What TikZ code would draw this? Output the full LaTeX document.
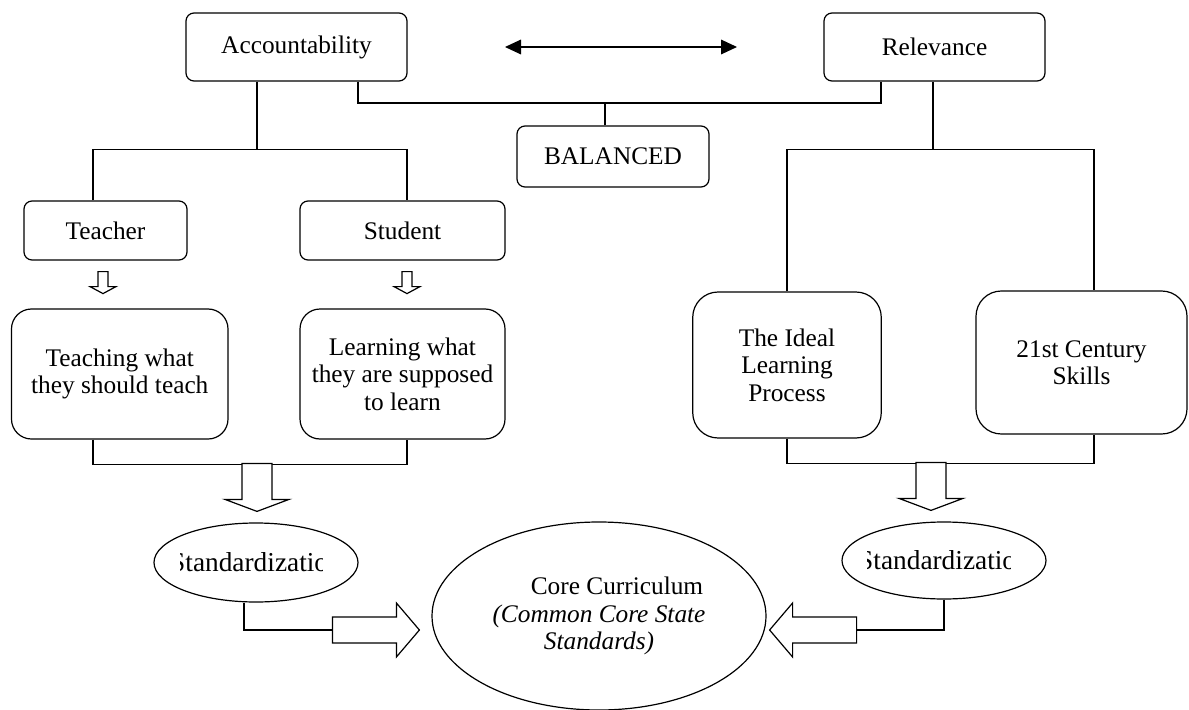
\documentclass[tikz,border=0pt]{standalone}
\usepackage{fontspec}
\setmainfont{Liberation Serif}
\usetikzlibrary{shapes,arrows,positioning,calc,arrows.meta}

\tikzset{
  every node/.style={font=\fontsize{19}{20.5}\selectfont, inner sep=2pt},
  box/.style={draw, rounded corners=6pt, align=center, line width=0.9pt},
  bigbox/.style={draw, rounded corners=15pt, align=center, line width=0.9pt},
  oval/.style={draw, ellipse, line width=0.9pt},
  link/.style={line width=0.9pt},
  pics/thindown/.style={code={
    \draw[link, fill=white] (-5,0) -- (-5,15) -- (-13,15) -- (0,22) -- (13,15) -- (5,15) -- (5,0) -- cycle;}},
  pics/fatdown/.style={code={
    \draw[link, fill=white] (-15,0) -- (-15,36) -- (-32,36) -- (0,48) -- (32,36) -- (15,36) -- (15,0) -- cycle;}},
  pics/fatside/.style={code={
    \draw[link, fill=white] (0,-13) -- (64,-13) -- (64,-27) -- (87,0) -- (64,27) -- (64,13) -- (0,13) -- cycle;}},
}

\begin{document}
\begin{tikzpicture}[x=0.75pt, y=-0.75pt]
    \useasboundingbox (0,0) rectangle (1189,710);

    % Top row
    \node[box, minimum width=165.75pt, minimum height=51pt] (acc) at (296.5,47) {Accountability};
    \node[box, minimum width=165.75pt, minimum height=51pt] (rel) at (934.5,47) {Relevance};
    \node[box, minimum width=144pt, minimum height=45.75pt] (bal) at (613,156.5) {BALANCED};
    \coordinate (al) at (505,47);
    \coordinate (ar) at (737,47);
    \draw[link, {Triangle[length=12pt,width=11pt]}-{Triangle[length=12pt,width=11pt]}] (al) -- (ar);

    % Accountability side
    \node[box, minimum width=122.25pt, minimum height=44.25pt] (teach) at (105.5,230.5) {Teacher};
    \node[box, minimum width=153.75pt, minimum height=44.25pt] (stud) at (402.5,230.5) {Student};
    \node[bigbox, minimum width=162.4pt, minimum height=97.5pt] (teachwhat) at (119.75,374) {Teaching what\\they should teach};
    \node[bigbox, minimum width=153.75pt, minimum height=97.5pt] (learnwhat) at (402.5,374) {Learning what\\they are supposed\\to learn};

    % Relevance side
    \node[bigbox, rounded corners=19pt, minimum width=141.4pt, minimum height=109.5pt] (ideal) at (787,365) {The Ideal\\Learning\\Process};
    \node[bigbox, rounded corners=19pt, minimum width=158.25pt, minimum height=107.25pt] (skills) at (1081.5,362.5) {21st Century\\Skills};

    % Bottom
    \node[oval, minimum width=153pt, minimum height=59.25pt] (stdl) at (256,562.5) {};
    \node[oval, minimum width=153pt, minimum height=57.75pt] (stdr) at (944,560.5) {};
    \node[oval, minimum width=250.5pt, minimum height=141pt, align=center] (core) at (599,616)
        {\hspace*{27pt}Core Curriculum\\\textit{(Common Core State}\\\textit{Standards)}};
    \begin{scope}
        \clip (180,535) rectangle (322,590);
        \node[font=\fontsize{20.5}{22}\selectfont] (stdltext) at (stdl.center) {Standardization};
    \end{scope}
    \begin{scope}
        \clip (867,535) rectangle (1010,590);
        \node[font=\fontsize{20.5}{22}\selectfont] (stdrtext) at (stdr.center) {Standardization};
    \end{scope}

    % Connectors
    \coordinate (mid) at (605,103);
    \draw[link] ($(acc.south)+(61.5,0)$) |- (mid) -| ($(rel.south)+(-53.5,0)$);
    \draw[link] (bal.north -| mid) -- (mid);
    \draw[link] ($(acc.south)+(-39.5,0)$) -- ++(0,68) coordinate (accj);
    \draw[link] ($(teach.north)+(-12.5,0)$) |- (accj) -| ($(stud.north)+(4.5,0)$);
    \draw[link] ($(rel.south)+(-1.5,0)$) -- ++(0,68) coordinate (relj);
    \draw[link] (ideal.north) |- (relj) -| ($(skills.north)+(12.5,0)$);

    \pic at ($(teach.south)+(-2.5,11)$) {thindown};
    \pic at ($(stud.south)+(4.5,11)$) {thindown};

    \draw[link] ($(teachwhat.south)+(-26.75,0)$) -- ++(0,25) -| ($(learnwhat.south)+(4.5,0)$);
    \draw[link] (ideal.south) -- ++(0,25) -| ($(skills.south)+(12.5,0)$);
    \pic at ($(stdl.north)+(1,-59)$) {fatdown};
    \pic at ($(stdr.north)+(-13,-59)$) {fatdown};

    \coordinate (sideL) at ($(core.west)+(-99,14)$);
    \coordinate (sideR) at ($(core.east)+(90,14)$);
    \draw[link] ($(stdl.south)+(-12,0)$) |- (sideL);
    \draw[link] (stdr.south) |- (sideR);
    \pic at (sideL) {fatside};
    \pic[xscale=-1] at (sideR) {fatside};
\end{tikzpicture}
\end{document}
